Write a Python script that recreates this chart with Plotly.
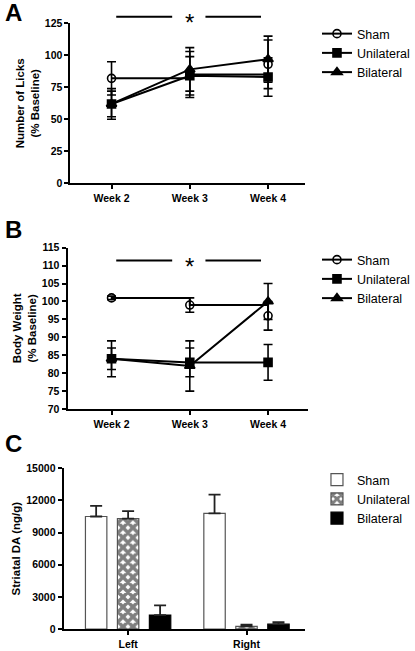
import plotly.graph_objects as go

# ---------------- data ----------------
weeks = ["Week 2", "Week 3", "Week 4"]
group_names = ["Sham", "Unilateral", "Bilateral"]

licks_sham = [82, 85, 93]
licks_sham_err = [13, 18, 19]
licks_uni = [62, 84, 83]
licks_uni_err = [12, 15, 15]
licks_bil = [62, 89, 97]
licks_bil_err = [10, 17, 18]

bw_sham = [101, 99, 96]
bw_sham_err = [0.5, 2, 4]
bw_uni = [84, 83, 83]
bw_uni_err = [5, 4, 5]
bw_bil = [84, 82, 100]
bw_bil_err = [3, 7, 5]

sides = ["Left", "Right"]
da_sham = [10500, 10800]
da_sham_err = [1000, 1750]
da_uni = [10300, 250]
da_uni_err = [700, 150]
da_bil = [1300, 450]
da_bil_err = [900, 200]

W, H = 415, 651
FONT = "Arial, Liberation Sans, sans-serif"

def px_x(p):
    return p / W

def px_y(p):
    return 1 - p / H

fig = go.Figure()

symbols = ["circle-open", "square", "triangle-up"]
shapes_line = ["hv", "linear", "linear"]

def add_lines(series, errs, xa, ya, leg):
    for name, y, e, sym, shp in zip(group_names, series, errs, symbols, shapes_line):
        fig.add_trace(go.Scatter(
            x=weeks, y=y, name=name, mode="lines+markers",
            line=dict(color="black", width=2, shape=shp),
            marker=dict(symbol=sym, size=8 if sym != "triangle-up" else 9,
                        color="black", line=dict(width=1.6, color="black")),
            error_y=dict(type="data", array=e, visible=True, color="black",
                         thickness=1.6, width=4.5),
            xaxis=xa, yaxis=ya, legend=leg))

add_lines([licks_sham, licks_uni, licks_bil],
          [licks_sham_err, licks_uni_err, licks_bil_err], "x", "y", "legend")
add_lines([bw_sham, bw_uni, bw_bil],
          [bw_sham_err, bw_uni_err, bw_bil_err], "x2", "y2", "legend2")

bar_styles = [
    dict(color="white", line=dict(color="#555555", width=1.2)),
    dict(color="white", line=dict(color="#555555", width=1.2),
         pattern=dict(shape="x", size=7, solidity=0.75, fgcolor="black", bgcolor="white")),
    dict(color="black", line=dict(color="black", width=1.2)),
]
for name, y, e, st in zip(group_names, [da_sham, da_uni, da_bil],
                          [da_sham_err, da_uni_err, da_bil_err], bar_styles):
    fig.add_trace(go.Bar(
        x=sides, y=y, name=name, marker=st,
        error_y=dict(type="data", array=e, arrayminus=[0] * len(e), symmetric=False,
                     visible=True, color="#222222", thickness=1.8, width=6),
        xaxis="x3", yaxis="y3", legend="legend3"))

axis_common = dict(showgrid=False, zeroline=False, showline=True, linecolor="black",
                   linewidth=2, ticks="outside", ticklen=4, tickwidth=2, tickcolor="black",
                   tickfont=dict(family=FONT, size=10.5, color="black", weight="bold"),
                   automargin=False)
title_font = dict(family=FONT, size=11.5, color="black", weight="bold")

fig.update_layout(
    xaxis=dict(axis_common, type="category", categoryarray=weeks, range=[-0.525, 2.475],
               domain=[px_x(72), px_x(312)], anchor="y"),
    yaxis=dict(axis_common, range=[0, 125], tick0=0, dtick=25,
               domain=[px_y(183.3), px_y(23.3)], anchor="x",
               title=dict(text="Number of Licks<br>(% Baseline)", font=title_font, standoff=3)),
    xaxis2=dict(axis_common, type="category", categoryarray=weeks, range=[-0.5625, 2.5125],
                domain=[px_x(69), px_x(315)], anchor="y2"),
    yaxis2=dict(axis_common, range=[70, 115], tick0=70, dtick=5,
                domain=[px_y(409), px_y(247.7)], anchor="x2",
                title=dict(text="Body Weight<br>(% Baseline)", font=title_font, standoff=3)),
    xaxis3=dict(axis_common, type="category", categoryarray=sides, range=[-0.545, 1.496],
                domain=[px_x(65), px_x(312)], anchor="y3"),
    yaxis3=dict(axis_common, range=[0, 15000], tick0=0, dtick=3000, tickformat="d",
                domain=[px_y(629), px_y(468.3)], anchor="x3",
                title=dict(text="Striatal DA (ng/g)", font=title_font, standoff=3)),
    barmode="group", bargap=0.19, bargroupgap=0.33,
)

leg_common = dict(xanchor="left", yanchor="top", bgcolor="rgba(0,0,0,0)",
                  font=dict(family=FONT, size=12.5, color="black"), tracegroupgap=0,
                  itemwidth=30)
fig.update_layout(
    legend=dict(leg_common, x=px_x(324), y=px_y(19)),
    legend2=dict(leg_common, x=px_x(324), y=px_y(245)),
    legend3=dict(leg_common, x=px_x(324), y=px_y(465)),
)

# significance bars
line_st = dict(color="black", width=2)
for xa, ya, yv in [("x", "paper", px_y(16.7)), ("x2", "y2", 111.4)]:
    for x0, x1 in [(0.06, 0.775), (1.2, 1.91)]:
        fig.add_shape(type="line", xref=xa, yref=ya, x0=x0, x1=x1, y0=yv, y1=yv, line=line_st)
    fig.add_annotation(x=1, y=yv, xref=xa, yref=ya, text="*", showarrow=False,
                       yanchor="middle",
                       font=dict(family=FONT, size=24, color="black"), yshift=-6)

for letter, yp in [("A", 12), ("B", 229), ("C", 443)]:
    fig.add_annotation(x=px_x(3), y=px_y(yp), xref="paper", yref="paper", text=letter,
                       showarrow=False, xanchor="left", yanchor="middle",
                       font=dict(family=FONT, size=24, color="black", weight="bold"))

fig.update_layout(width=W, height=H, margin=dict(l=0, r=0, t=0, b=0),
                  paper_bgcolor="white", plot_bgcolor="white", showlegend=True)

fig.write_html("out.html", config={"displayModeBar": False},
               post_script="document.body.style.margin='0';document.body.style.overflow='hidden';")
